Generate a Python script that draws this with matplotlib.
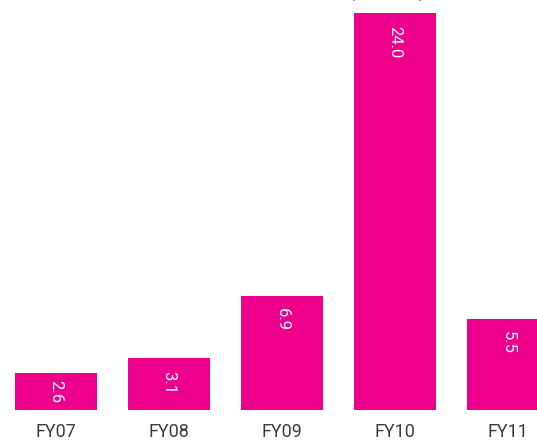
import matplotlib
matplotlib.use('Agg')
import matplotlib.pyplot as plt

# data
years = ['FY07', 'FY08', 'FY09', 'FY10', 'FY11']
bar_heights = [2.2, 3.1, 6.9, 24.0, 5.5]
value_labels = ['2.6', '3.1', '6.9', '24.0', '5.5']

pink = '#EC008C'
plt.rcParams['font.family'] = ['Roboto', 'DejaVu Sans']

fig = plt.figure(figsize=(5.37, 4.40), dpi=100)
ax = fig.add_axes([0, 30.5 / 440, 1, 409.5 / 440])

x = list(range(len(years)))
bars = ax.bar(x, bar_heights, width=0.726, color=pink)

ax.set_xlim(-0.4956, 4.2566)
ax.set_ylim(0, 409.5 / 16.52)

# value labels, rotated, near top of each bar
px_per_unit = 16.52
for xi, h, lab in zip(x, bar_heights, value_labels):
    if h * px_per_unit < 45:
        ax.text(xi, h / 2, lab, rotation=-90, color='white', fontsize=12,
                ha='center', va='center')
    else:
        ax.text(xi, h - 12.5 / px_per_unit, lab, rotation=-90, color='white',
                fontsize=12, ha='center', va='top')

ax.set_xticks(x)
ax.set_xticklabels(years, fontsize=13, color='#3c3c3c')
ax.tick_params(axis='x', length=0, pad=10)
ax.set_yticks([])
for s in ax.spines.values():
    s.set_visible(False)

# title mostly cut off at the top edge
fig.text(387 / 537, 1 + 3.2 / 440, '(US$ mn)', color=pink, fontsize=13,
         fontweight='bold', ha='center', va='baseline')

fig.savefig('out.png', dpi=100)
